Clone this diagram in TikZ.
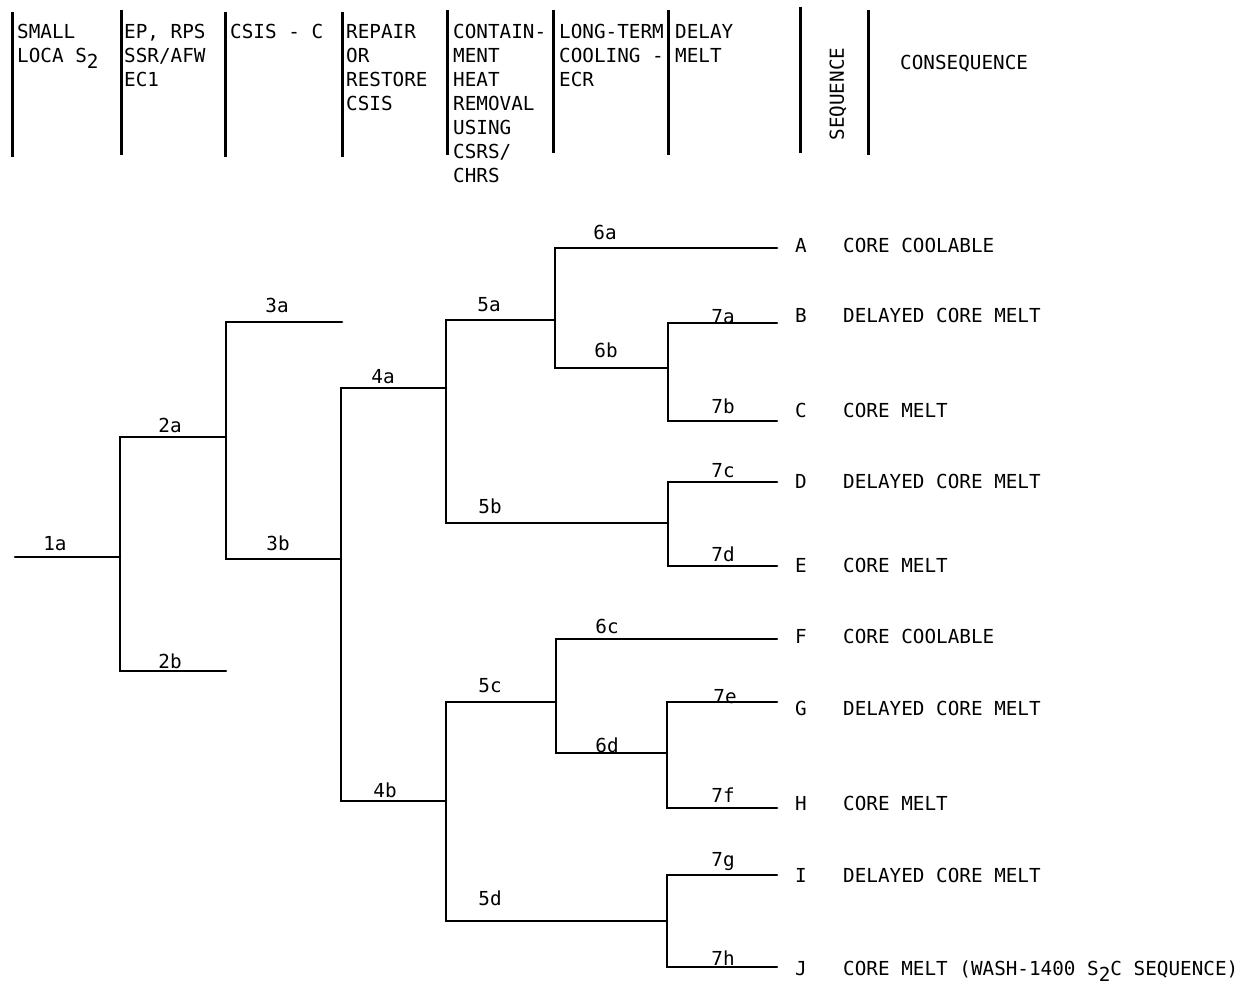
\documentclass[tikz,border=0pt]{standalone}
\usepackage{fontspec}
\setmonofont{DejaVu Sans Mono}
\begin{document}
\begin{tikzpicture}[x=1pt,y=-1pt,
  br/.style={line width=2.6pt, line cap=round, line join=miter},
  hdr/.style={line width=3.0pt},
  txt/.style={inner sep=0pt, font=\ttfamily\fontsize{19.3}{24}\selectfont},
  col/.style={txt, anchor=north west, align=left},
  lab/.style={txt, anchor=base},
  leaf/.style={txt, anchor=base},
  cons/.style={txt, anchor=base west}]
\useasboundingbox (0,0) rectangle (1247,987);
\newcommand{\lowtwo}{\raisebox{-6pt}{2}}
% header separators
\draw[hdr] (12,12) -- (12,157);
\draw[hdr] (121,10) -- (121,155);
\draw[hdr] (225,12) -- (225,157);
\draw[hdr] (342,12) -- (342,157);
\draw[hdr] (447,10) -- (447,155);
\draw[hdr] (553,10) -- (553,153);
\draw[hdr] (668,10) -- (668,155);
\draw[hdr] (800,7) -- (800,153);
\draw[hdr] (868,10) -- (868,155);
% header texts
\node[col] (h1) at (17,24) {SMALL\\LOCA S\lowtwo};
\node[col] (h2) at (124,24) {EP, RPS\\SSR/AFW\\EC1};
\node[col] (h3) at (230,24) {CSIS - C};
\node[col] (h4) at (346,24) {REPAIR\\OR\\RESTORE\\CSIS};
\node[col] (h5) at (453,24) {CONTAIN-\\MENT\\HEAT\\REMOVAL\\USING\\CSRS/\\CHRS};
\node[col] (h6) at (559,24) {LONG-TERM\\COOLING -\\ECR};
\node[col] (h7) at (675,24) {DELAY\\MELT};
\node[txt, rotate=90] (hseq) at (838,94) {SEQUENCE};
\node[txt, anchor=base west] (hcons) at (900,70) {CONSEQUENCE};
% tree junctions
\coordinate (s1) at (15,557);
\coordinate (j1) at (120,557);
\coordinate (e2a) at (226,437);
\coordinate (e2b) at (226,671);
\coordinate (e3a) at (342,322);
\coordinate (e3b) at (341,559);
\coordinate (e4a) at (446,388);
\coordinate (e4b) at (446,801);
\coordinate (e5a) at (555,320);
\coordinate (e5b) at (668,523);
\coordinate (e5c) at (556,702);
\coordinate (e5d) at (667,921);
\coordinate (e6b) at (668,368);
\coordinate (e6d) at (667,753);
\coordinate (la) at (777,248);
\coordinate (lb) at (777,323);
\coordinate (lc) at (777,421);
\coordinate (ld) at (777,482);
\coordinate (le) at (777,566);
\coordinate (lf) at (777,639);
\coordinate (lg) at (777,702);
\coordinate (lh) at (777,808);
\coordinate (li) at (777,875);
\coordinate (lj) at (777,967);
% branches
\draw[br] (s1) -- (j1);
\draw[br] (e2a) -| (j1) |- (e2b);
\draw[br] (e3a) -| (e2a) |- (e3b);
\draw[br] (e4a) -| (e3b) |- (e4b);
\draw[br] (e5a) -| (e4a) |- (e5b);
\draw[br] (la) -| (e5a) |- (e6b);
\draw[br] (lb) -| (e6b) |- (lc);
\draw[br] (ld) -| (e5b) |- (le);
\draw[br] (e5c) -| (e4b) |- (e5d);
\draw[br] (lf) -| (e5c) |- (e6d);
\draw[br] (lg) -| (e6d) |- (lh);
\draw[br] (li) -| (e5d) |- (lj);
% branch labels
\node[lab] (t1a) at (55,550) {1a};
\node[lab] (t2a) at (170,432) {2a};
\node[lab] (t2b) at (170,668) {2b};
\node[lab] (t3a) at (277,312) {3a};
\node[lab] (t3b) at (278,550) {3b};
\node[lab] (t4a) at (383,383) {4a};
\node[lab] (t4b) at (385,797) {4b};
\node[lab] (t5a) at (489,311) {5a};
\node[lab] (t5b) at (490,513) {5b};
\node[lab] (t5c) at (490,692) {5c};
\node[lab] (t5d) at (490,905) {5d};
\node[lab] (t6a) at (605,240) {6a};
\node[lab] (t6b) at (606,357) {6b};
\node[lab] (t6c) at (607,633) {6c};
\node[lab] (t6d) at (607,752) {6d};
\node[lab] (t7a) at (723,323) {7a};
\node[lab] (t7b) at (723,413) {7b};
\node[lab] (t7c) at (723,477) {7c};
\node[lab] (t7d) at (723,561) {7d};
\node[lab] (t7e) at (725,703) {7e};
\node[lab] (t7f) at (723,802) {7f};
\node[lab] (t7g) at (723,866) {7g};
\node[lab] (t7h) at (723,965) {7h};
% sequence letters
\node[leaf] (A) at (801,252) {A};
\node[leaf] (B) at (801,322) {B};
\node[leaf] (C) at (801,417) {C};
\node[leaf] (D) at (801,488) {D};
\node[leaf] (E) at (801,572) {E};
\node[leaf] (F) at (801,643) {F};
\node[leaf] (G) at (801,715) {G};
\node[leaf] (H) at (801,810) {H};
\node[leaf] (I) at (801,882) {I};
\node[leaf] (J) at (801,975) {J};
% consequences
\node[cons] (cA) at (843,252) {CORE COOLABLE};
\node[cons] (cB) at (843,322) {DELAYED CORE MELT};
\node[cons] (cC) at (843,417) {CORE MELT};
\node[cons] (cD) at (843,488) {DELAYED CORE MELT};
\node[cons] (cE) at (843,572) {CORE MELT};
\node[cons] (cF) at (843,643) {CORE COOLABLE};
\node[cons] (cG) at (843,715) {DELAYED CORE MELT};
\node[cons] (cH) at (843,810) {CORE MELT};
\node[cons] (cI) at (843,882) {DELAYED CORE MELT};
\node[cons] (cJ) at (843,975) {CORE MELT (WASH-1400 S\lowtwo C SEQUENCE)};
\end{tikzpicture}
\end{document}
